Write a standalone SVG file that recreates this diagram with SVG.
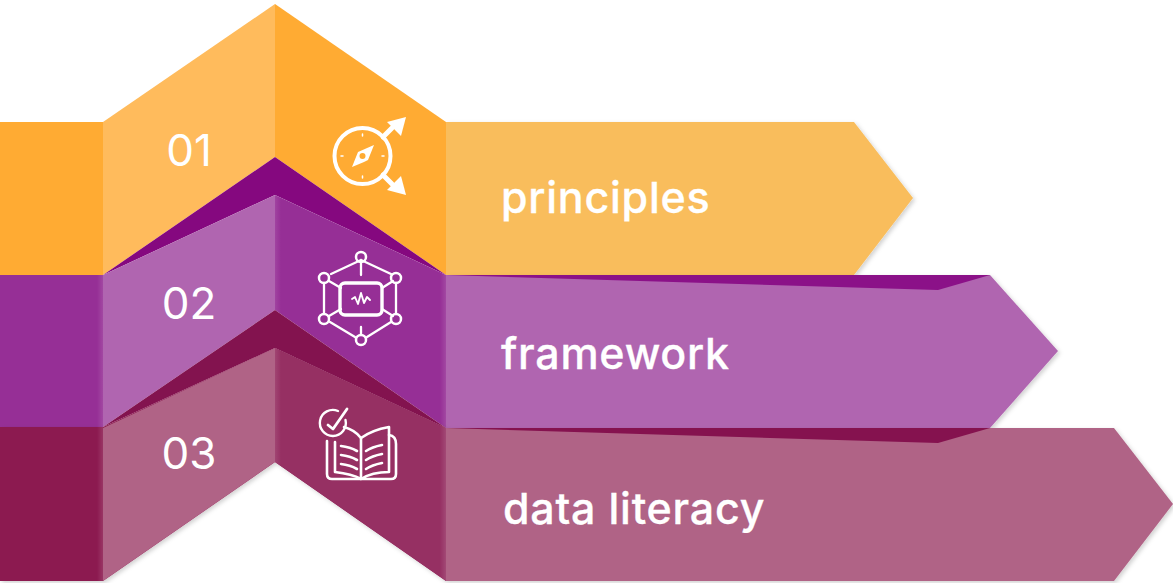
<svg xmlns="http://www.w3.org/2000/svg" width="1173" height="583" viewBox="0 0 1173 583">
<defs>
<filter id="sh" x="-5%" y="-10%" width="110%" height="125%"><feDropShadow dx="2" dy="2" stdDeviation="2" flood-color="#000" flood-opacity="0.18"/></filter>
<linearGradient id="toR"><stop offset="0" stop-color="#fff" stop-opacity="0"/><stop offset="1" stop-color="#fff" stop-opacity=".12"/></linearGradient>
<linearGradient id="toL"><stop offset="0" stop-color="#fff" stop-opacity=".1"/><stop offset="1" stop-color="#fff" stop-opacity="0"/></linearGradient>
</defs>
<style>
.num{font-family:"Inter","Liberation Sans",sans-serif;font-size:44px;font-weight:400;fill:#fff}
.lab{font-family:"Inter","Liberation Sans",sans-serif;font-size:43px;font-weight:500;fill:#fff;stroke:#fff;stroke-width:.3px;letter-spacing:.75px}
.ic{fill:none;stroke:#fff;stroke-width:3.4;stroke-linecap:round;stroke-linejoin:round}
.fw{fill:#fff}
.br{fill:url(#toR)}
.bl{fill:url(#toL)}
</style>
<rect width="1173" height="583" fill="#fff"/>
<g id="banner-1">
<polygon points="446,122 854,122 913,198 854,275 446,275" fill="#f9bd5c" filter="url(#sh)"/>
<text class="lab" x="501" y="213">principles</text>
</g>
<g id="step-1">
<rect x="0" y="122" width="103" height="153" fill="#ffab33"/>
<polygon points="103,122 275,4 275,157 103,275" fill="#ffbb5c"/>
<polygon points="275,4 446,122 446,275 275,157" fill="#ffab33"/>
<text class="num" x="189" y="166" text-anchor="middle">01</text>
<g id="icon-compass">
<circle cx="362.500" cy="156" r="28" class="ic" style="stroke-width:4"/>
<path d="M374 145 L368 160 Q366 161 364 162 L352 167 L358 152 Z" class="fw"/>
<circle cx="362.500" cy="156" r="3" fill="#ffab33"/>
<path d="M383 137 L392 128 M383 175 L392 184" class="ic" style="stroke-width:5"/>
<polygon points="406,117 401,136 387,122" class="fw"/>
<polygon points="406,195 387,190 401,176" class="fw"/>
<path d="M362.500 134v2M362.500 176v2M341 156h2M382 156h2" class="ic" style="stroke-width:1.500"/>
</g>
</g>
<g id="banner-2">
<polygon points="446,275 990,275 1058,351 990,428 446,428" fill="#b065b0" filter="url(#sh)"/>
<polygon points="446,275 990,275 938,290" fill="#8b1188"/>
<text class="lab" x="501" y="369">framework</text>
</g>
<g id="step-2">
<polygon points="103,275 275,157 446,275 275,195" fill="#85087f"/>
<rect x="0" y="275" width="103" height="152" fill="#962f96"/>
<rect x="97" y="275" width="6" height="152" class="br"/>
<polygon points="103,275 275,195 275,310 103,427" fill="#b065b0"/>
<polygon points="275,195 446,275 446,428 275,310" fill="#962f96"/>
<polygon points="275,195 281,198 281,314 275,310" class="bl"/>
<polygon points="440,272 446,275 446,428 440,424" class="br"/>
<text class="num" x="189" y="319" text-anchor="middle">02</text>
<g id="icon-network">
<path d="M361 260 L391 274 M361 260 L331 274 M324 283 V313 M396 283 V313 M330 322 L355 337 M391 322 L367 337 M361 263 V275 M361 327 V334 M329 281 L341 288 M393 281 L382 288 M329 316 L341 309 M393 316 L382 309" class="ic" style="stroke-width:2.300"/>
<circle cx="361" cy="257" r="5" class="ic" style="stroke-width:2.500"/>
<circle cx="324" cy="278" r="5" class="ic" style="stroke-width:2.500"/>
<circle cx="396" cy="278" r="5" class="ic" style="stroke-width:2.500"/>
<circle cx="324" cy="319" r="5" class="ic" style="stroke-width:2.500"/>
<circle cx="396" cy="319" r="5" class="ic" style="stroke-width:2.500"/>
<circle cx="361" cy="340" r="5" class="ic" style="stroke-width:2.500"/>
<rect x="340" y="283" width="42" height="32" rx="5" class="ic" style="stroke-width:3.400"/>
<path d="M352 299 L355 297 L358 304 L361 293 L364 303 L367 297 L370 300" class="ic" style="stroke-width:1.900"/>
</g>
</g>
<polygon id="step-3-shadow" points="0,427 103,427 275,348 446,428 446,581 275,462 103,581 0,581" fill="#8c1a50" filter="url(#sh)"/>
<g id="banner-3">
<polygon points="446,428 1114,428 1173,504 1114,581 446,581" fill="#b06386" filter="url(#sh)"/>
<polygon points="446,428 990,428 938,443" fill="#85124f"/>
<text class="lab" x="503" y="524">data literacy</text>
</g>
<g id="step-3">
<polygon points="103,427 275,310 446,428 275,348" fill="#83134f"/>
<rect x="0" y="427" width="103" height="154" fill="#8c1a50"/>
<rect x="97" y="427" width="6" height="154" class="br"/>
<polygon points="103,428 275,348 275,462 103,581" fill="#b06386"/>
<polygon points="275,348 446,428 446,581 275,462" fill="#963063"/>
<polygon points="275,348 281,351 281,466 275,462" class="bl"/>
<polygon points="440,425 446,428 446,581 440,577" class="br"/>
<text class="num" x="189" y="469" text-anchor="middle">03</text>
<g id="icon-book">
<path d="M344 427 Q355 430 361 438 Q372 430 389 427 V472 Q372 472 361 479 Q352 474 335 472 V442" class="ic" style="stroke-width:2.600"/>
<path d="M361 438 V479 M389 435 Q396 436 396 444 V474 Q396 479 391 479 H332 Q327 479 327 474 V441" class="ic" style="stroke-width:2.600"/>
<path d="M341 446 Q350 447 357 451 M341 455 Q350 456 357 460 M341 464 Q350 465 357 469 M366 451 Q372 447 382 445 M366 460 Q372 456 382 454 M366 469 Q372 465 382 463" class="ic" style="stroke-width:2.600"/>
<path d="M345.500 420 A13 13 0 1 1 338 411" class="ic" style="stroke-width:2.400"/>
<path d="M328 425 L333 429 L347 409" class="ic" style="stroke-width:2.800"/>
</g>
</g>
</svg>
